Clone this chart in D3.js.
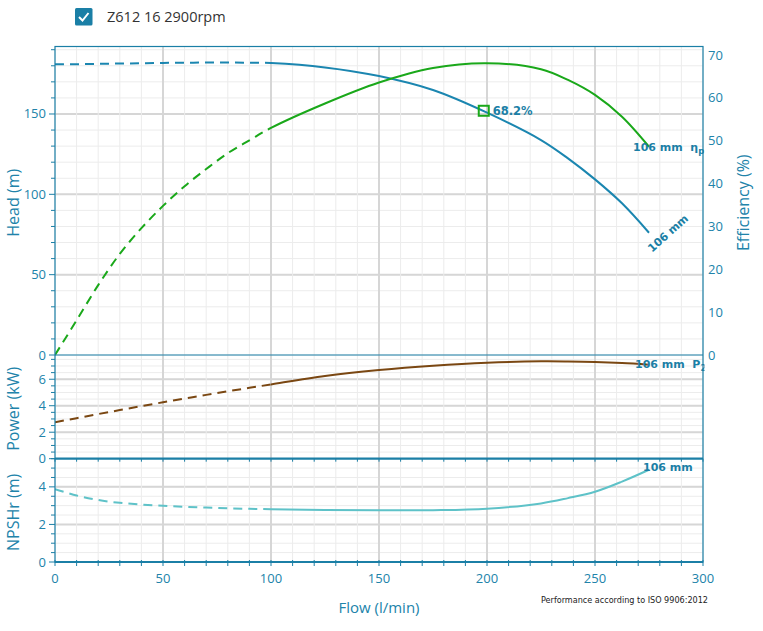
<!DOCTYPE html>
<html><head><meta charset="utf-8">
<script src="https://cdn.jsdelivr.net/npm/d3@7"></script>
<style>
html,body{margin:0;padding:0;background:#fff;}
svg{display:block;}
</style></head>
<body>
<svg id="c" width="763" height="631"></svg>
<script>
// ---------- DATA ----------
const seriesName = "Z612 16 2900rpm";
const flow  = [0,10,20,30,40,50,60,70,80,90,100,125,150,175,200,225,237.5,250,262.5,275];
const head  = [180.9,181.0,181.2,181.4,181.6,181.8,181.9,182.0,182.0,181.9,181.7,179.0,173.6,164.9,150.8,133.8,122.4,109.3,94.4,76.1];
const eff   = [0,8.1,16.3,23.6,29.6,34.8,39.4,43.4,47.1,50.1,53.0,58.7,63.6,67.0,68.1,66.7,64.2,60.7,55.6,48.6];
const power = [2.75,3.06,3.37,3.67,3.97,4.26,4.54,4.82,5.09,5.35,5.61,6.24,6.69,7.02,7.25,7.35,7.34,7.30,7.22,7.10];
const npsh  = [3.88,3.54,3.30,3.15,3.06,2.99,2.94,2.90,2.86,2.83,2.81,2.77,2.75,2.76,2.84,3.12,3.40,3.74,4.28,4.91];
const dashedUntil = 100;          // flow below this drawn dashed
const bep = {flow:198.5, head:152.0, eff:68.2};
const flowTicks  = [0,50,100,150,200,250,300];
const headTicks  = [0,50,100,150];
const effTicks   = [0,10,20,30,40,50,60,70];
const powerTicks = [0,2,4,6];
const npshTicks  = [0,2,4];
const curveLabel = "106 mm";

// ---------- LAYOUT ----------
const svg = d3.select("#c");
const L = 55, R = 703;
const top1 = 46.5, bot1 = 355, bot2 = 458.7, bot3 = 562;
const axisCol = "#1b7fa6", txtCol = "#2183aa";
const cHead = "#1b86b0", cEff = "#1aa81a", cPow = "#7a4712", cNpsh = "#5ec2c8";

const x = d3.scaleLinear().domain([0,300]).range([L,R]);
const yHead = d3.scaleLinear().domain([0,192]).range([bot1,top1]);
const yEff  = d3.scaleLinear().domain([0,72]).range([bot1,top1]);
const yPow  = d3.scaleLinear().domain([0,7.83]).range([bot2,bot1]);
const yNp   = d3.scaleLinear().domain([0,5.5]).range([bot3,bot2]);

const defs = svg.append("defs");
defs.append("clipPath").attr("id","clip")
  .append("rect").attr("x",L).attr("y",top1).attr("width",R-L+1.5).attr("height",bot3-top1);
defs.append("clipPath").attr("id","clipL").append("rect")
  .attr("x",0).attr("y",0).attr("width",x(dashedUntil)).attr("height",631);
defs.append("clipPath").attr("id","clipR").append("rect")
  .attr("x",x(dashedUntil)).attr("y",0).attr("width",763-x(dashedUntil)).attr("height",631);

const grid = svg.append("g");
function hgrid(scale, minorStep, majors){
  const [d0,d1] = scale.domain();
  for(let v=d0; v<=d1+1e-9; v+=minorStep){
    grid.append("line").attr("x1",L).attr("x2",R).attr("y1",scale(v)).attr("y2",scale(v))
      .attr("stroke","#ececec").attr("stroke-width",1);
  }
  majors.filter(v=>v>0).forEach(v=>{
    grid.append("line").attr("x1",L).attr("x2",R).attr("y1",scale(v)).attr("y2",scale(v))
      .attr("stroke","#d6d6d6").attr("stroke-width",2);
  });
}
hgrid(yHead,10,headTicks);
hgrid(yPow,0.5,powerTicks);
hgrid(yNp,0.5,npshTicks);
d3.range(0,301,10).forEach(v=>{
  grid.append("line").attr("x1",x(v)).attr("x2",x(v)).attr("y1",top1).attr("y2",bot3)
    .attr("stroke","#ececec").attr("stroke-width",1);
});
flowTicks.filter(v=>v>0&&v<300).forEach(v=>{
  grid.append("line").attr("x1",x(v)).attr("x2",x(v)).attr("y1",top1).attr("y2",bot3)
    .attr("stroke","#d6d6d6").attr("stroke-width",2);
});

// ---------- CURVES ----------
const plot = svg.append("g").attr("clip-path","url(#clip)");
const pts = (arr)=>flow.map((f,i)=>({f, v:arr[i]}));
function drawCurve(arr, yS, col){
  const p = pts(arr);
  const line = d3.line().x(d=>x(d.f)).y(d=>yS(d.v)).curve(d3.curveCatmullRom.alpha(0.5));
  const idx = flow.indexOf(dashedUntil);
  const dashed = p.slice(0, idx+2);
  const solid  = p.slice(idx-1);
  plot.append("path").attr("d",line(dashed)).attr("fill","none").attr("stroke",col)
    .attr("stroke-width",2).attr("stroke-dasharray","9,6").attr("clip-path","url(#clipL)");
  plot.append("path").attr("d",line(solid)).attr("fill","none").attr("stroke",col)
    .attr("stroke-width",2).attr("clip-path","url(#clipR)");
}
drawCurve(head, yHead, cHead);
drawCurve(eff, yEff, cEff);
drawCurve(power, yPow, cPow);
drawCurve(npsh, yNp, cNpsh);

// BEP marker
plot.append("rect").attr("x",x(bep.flow)-5).attr("y",yHead(bep.head)-5).attr("width",10).attr("height",10)
  .attr("fill","none").attr("stroke",cEff).attr("stroke-width",2);

const lblFont = "'DejaVu Sans', Verdana, sans-serif";
const lbl = plot.append("g").attr("font-family",lblFont).attr("font-weight","bold")
  .attr("font-size",11).attr("fill",axisCol);
lbl.append("text").attr("x",x(bep.flow)+9).attr("y",yHead(bep.head)+4).attr("font-size",11.5).text(bep.eff.toFixed(1)+"%");
const last = flow.length-1;
// efficiency label
const te = lbl.append("text").attr("x",x(flow[last])-16).attr("y",yEff(eff[last])+4.5);
te.append("tspan").text(curveLabel+"\u00a0\u00a0\u03b7");
te.append("tspan").attr("font-size",8.5).attr("dy",3).text("p");
// power label
const tp = lbl.append("text").attr("x",x(flow[last])-14).attr("y",yPow(power[last])+3.5);
tp.append("tspan").text(curveLabel+"\u00a0\u00a0P");
tp.append("tspan").attr("font-size",8.5).attr("dy",3).text("2");
// npsh label
lbl.append("text").attr("x",x(flow[last])-6).attr("y",yNp(npsh[last])+1).text(curveLabel);
// head label (rotated)
lbl.append("text").attr("transform",`translate(${x(flow[last])+3},${yHead(head[last])+20}) rotate(-42)`).text(curveLabel);

// ---------- FRAMES & AXES ----------
const fr = svg.append("g").attr("fill","none").attr("stroke",axisCol);
fr.append("rect").attr("x",L).attr("y",top1).attr("width",R-L).attr("height",bot3-top1).attr("stroke-width",1.2);
fr.append("line").attr("x1",L).attr("x2",R).attr("y1",bot1).attr("y2",bot1).attr("stroke-width",1.2);
fr.append("line").attr("x1",L).attr("x2",R).attr("y1",bot2).attr("y2",bot2).attr("stroke-width",2.2);
fr.append("line").attr("x1",L).attr("x2",R).attr("y1",bot3).attr("y2",bot3).attr("stroke-width",2);

const tickFont = "'Open Sans', 'Segoe UI', sans-serif";
const ax = svg.append("g").attr("font-family",tickFont).attr("font-size",13).attr("fill",txtCol);
function leftAxis(scale, minorStep, majors){
  const [d0,d1] = scale.domain();
  for(let v=d0; v<=d1+1e-9; v+=minorStep){
    const isMajor = majors.some(m=>Math.abs(m-v)<1e-6);
    fr.append("line").attr("x1",L-(isMajor?6:4)).attr("x2",L).attr("y1",scale(v)).attr("y2",scale(v)).attr("stroke-width",1);
  }
  majors.forEach(v=>{
    ax.append("text").attr("x",L-9).attr("y",scale(v)+4.5).attr("text-anchor","end").text(v);
  });
}
leftAxis(yHead,10,headTicks);
leftAxis(yPow,0.5,powerTicks);
leftAxis(yNp,0.5,npshTicks);
effTicks.forEach(v=>{
  ax.append("text").attr("x",R+5).attr("y",yEff(v)+4.5).text(v);
});
d3.range(0,301,10).forEach(v=>{
  fr.append("line").attr("x1",x(v)).attr("x2",x(v)).attr("y1",bot3-2).attr("y2",bot3+4).attr("stroke-width",1);
  fr.append("line").attr("x1",x(v)).attr("x2",x(v)).attr("y1",bot2).attr("y2",bot2+3).attr("stroke-width",1);
});
flowTicks.forEach(v=>{
  ax.append("text").attr("x",x(v)).attr("y",bot3+21).attr("text-anchor","middle").text(v);
});

// titles
const tt = svg.append("g").attr("font-family",tickFont).attr("font-size",16).attr("fill",txtCol).attr("text-anchor","middle");
tt.append("text").attr("transform",`translate(19,${(top1+bot1)/2+2}) rotate(-90)`).text("Head (m)");
tt.append("text").attr("transform",`translate(19,${(bot1+bot2)/2+2}) rotate(-90)`).text("Power (kW)");
tt.append("text").attr("transform",`translate(19,${(bot2+bot3)/2+2}) rotate(-90)`).text("NPSHr (m)");
tt.append("text").attr("transform",`translate(749,${(top1+bot1)/2+2}) rotate(-90)`).text("Efficiency (%)");
tt.append("text").attr("x",(L+R)/2).attr("y",613).attr("font-size",15).text("Flow (l/min)");

svg.append("text").attr("x",541).attr("y",603).attr("font-family",lblFont).attr("font-size",8)
  .attr("textLength",167).attr("lengthAdjust","spacingAndGlyphs").attr("fill","#222")
  .text("Performance according to ISO 9906:2012");

// legend
const lg = svg.append("g");
lg.append("rect").attr("x",75).attr("y",8).attr("width",17.5).attr("height",17.5).attr("rx",1.5).attr("fill","#1a7fa6");
lg.append("path").attr("d","M79,17 L82.5,20.5 L88.5,13").attr("fill","none").attr("stroke","#fff").attr("stroke-width",2);
lg.append("text").attr("x",107).attr("y",21.5).attr("font-family",tickFont).attr("font-size",14.5).attr("fill","#333").text(seriesName);
</script>
</body></html>
